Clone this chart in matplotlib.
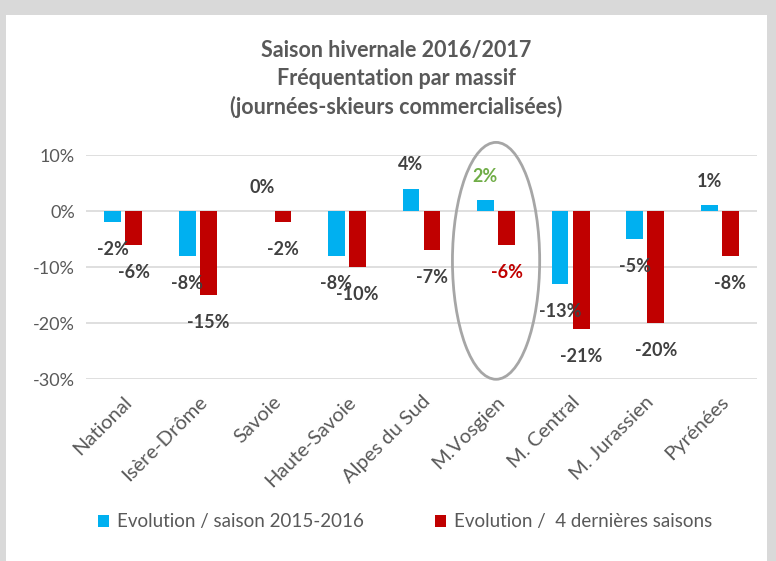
import matplotlib
matplotlib.use("Agg")
import matplotlib.pyplot as plt
from matplotlib.patches import Rectangle, Ellipse
import numpy as np

categories = ["National", "Isère-Drôme", "Savoie", "Haute-Savoie", "Alpes du Sud",
              "M.Vosgien", "M. Central", "M. Jurassien", "Pyrénées"]
evol_1516 = [-2, -8, None, -8, 4, 2, -13, -5, 1]
evol_1516_labels = [-2, -8, 0, -8, 4, 2, -13, -5, 1]
evol_4saisons = [-6, -15, -2, -10, -7, -6, -21, -20, -8]
series_names = ["Evolution / saison 2015-2016", "Evolution /  4 dernières saisons"]
yticks = [10, 0, -10, -20, -30]
highlight = "M.Vosgien"

FONT = "Lato"
BLUE = "#00B0F0"
RED = "#C00000"
GREEN = "#70AD47"
DARK = "#404040"
GREY_TXT = "#595959"

W, H = 776, 561
fig = plt.figure(figsize=(W / 100, H / 100), dpi=100)
fig.patch.set_facecolor("#D9D9D9")
fig.patches.append(Rectangle((6 / W, 0), (767 - 6) / W, 1 - 15 / H,
                             transform=fig.transFigure, facecolor="white",
                             edgecolor="none", zorder=-5))

ax = fig.add_axes([86 / W, 1 - 379 / H, (757 - 86) / W, (379 - 155) / H])
ax.set_facecolor("none")
ax.set_zorder(2)

x = np.arange(len(categories))
bw = 0.225
off = 0.142
blue_vals = [v if v is not None else 0 for v in evol_1516]
ax.bar(x - off, blue_vals, width=bw, color=BLUE, zorder=3, label=series_names[0])
ax.bar(x + off, evol_4saisons, width=bw, color=RED, zorder=3, label=series_names[1])

ax.set_xlim(-0.5, len(categories) - 0.5)
ax.set_ylim(-30, 10)
ax.set_yticks(yticks)
ax.set_yticklabels([f"{t}%" for t in yticks], fontsize=13, color=GREY_TXT, family=FONT)
ax.yaxis.grid(True, color="#D9D9D9", linewidth=1.2, zorder=0)
ax.set_axisbelow(True)
for s in ax.spines.values():
    s.set_visible(False)
ax.tick_params(axis="both", length=0, pad=8)
ax.set_xticks(x)
ax.set_xticklabels(categories, rotation=45, ha="right", rotation_mode="anchor",
                   fontsize=14.5, color=GREY_TXT, family=FONT)
ax.tick_params(axis="x", pad=10)


def put_label(xpos, v, color):
    dy = 17 if v >= 0 else -20
    ax.annotate(f"{v}%", (xpos, v), xytext=(0, dy), textcoords="offset points",
                ha="center", va="center", fontsize=13, fontweight="bold",
                color=color, family=FONT, zorder=5, annotation_clip=False)


for i, cat in enumerate(categories):
    c1 = GREEN if cat == highlight else DARK
    c2 = RED if cat == highlight else DARK
    put_label(x[i] - off, evol_1516_labels[i], c1)
    put_label(x[i] + off, evol_4saisons[i], c2)

# highlight ellipse around M.Vosgien
hi = categories.index(highlight)
ax.add_patch(Ellipse((x[hi], -8.9), 1.17, 42.3, fill=False, edgecolor="#A6A6A6",
                     linewidth=2, clip_on=False, zorder=4))

fig.text(396 / W, 1 - 79 / H,
         "Saison hivernale 2016/2017\nFréquentation par massif\n(journées-skieurs commercialisées)",
         ha="center", va="center", fontsize=15.5, fontweight="bold", color=GREY_TXT,
         family=FONT, linespacing=1.42)

leg = fig.legend(loc="center", bbox_to_anchor=(405 / W, 1 - 522 / H), ncol=2,
                 frameon=False, prop={"family": FONT, "size": 13.5},
                 handlelength=0.6, handleheight=0.6, handletextpad=0.4,
                 columnspacing=3.8)
for t in leg.get_texts():
    t.set_color(GREY_TXT)

fig.savefig("out.png", dpi=100, facecolor=fig.get_facecolor())
